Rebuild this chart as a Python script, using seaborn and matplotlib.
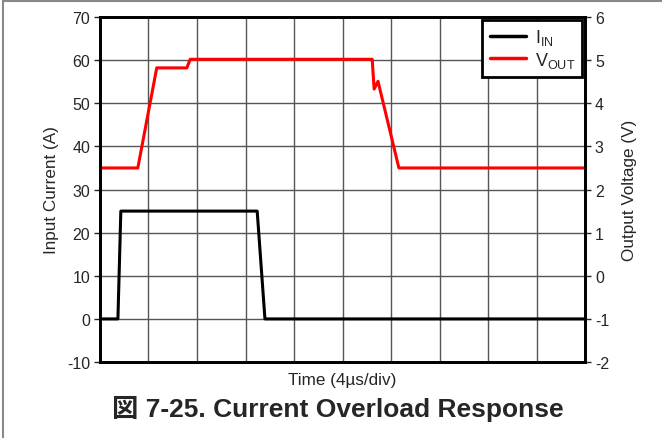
import numpy as np
import pandas as pd
import matplotlib
matplotlib.use('Agg')
import matplotlib.pyplot as plt
import seaborn as sns
from matplotlib.lines import Line2D

# time in divisions (4 us/div)
t_in = [0, 0.37, 0.43, 3.24, 3.40, 10]
i_in = [0, 0, 25, 25, 0, 0]

t_out = [0, 0.78, 1.17, 1.79, 1.86, 5.61, 5.65, 5.73, 6.16, 10]
v_out = [2.5, 2.5, 4.82, 4.82, 5.02, 5.02, 4.33, 4.51, 2.5, 2.5]

left_ticks = [-10, 0, 10, 20, 30, 40, 50, 60, 70]
right_ticks = [-2, -1, 0, 1, 2, 3, 4, 5, 6]

sns.set_style('white')
plt.rcParams['font.family'] = ['Liberation Sans', 'Noto Sans CJK JP', 'DejaVu Sans']
plt.rcParams['mathtext.default'] = 'regular'
plt.rcParams['axes.unicode_minus'] = False

fig = plt.figure(figsize=(6.62, 4.39), dpi=100)
ax = fig.add_axes([0.151, 0.173, 0.733, 0.786])
ax2 = ax.twinx()

df_in = pd.DataFrame({'t': t_in, 'v': i_in})
df_out = pd.DataFrame({'t': t_out, 'v': v_out})

sns.lineplot(data=df_in, x='t', y='v', ax=ax, color='black', lw=2.2, sort=False, legend=False)
sns.lineplot(data=df_out, x='t', y='v', ax=ax2, color='#ff0000', lw=2.2, sort=False, legend=False)

ax.set_xlim(0, 10)
ax.set_ylim(-10, 70)
ax2.set_ylim(-2, 6)
ax.set_xticks(np.arange(0, 11, 1))
ax.set_yticks(left_ticks)
ax2.set_yticks(right_ticks)
ax.tick_params(axis='x', length=0, labelbottom=False)
ax.tick_params(axis='y', length=4, width=1, direction='out', labelsize=11.5, pad=3, left=True)
ax2.tick_params(axis='y', length=4, width=1, direction='out', labelsize=11.5, pad=3, right=True)
ax.grid(True, color='#555555', lw=1)
ax.set_xlabel('Time (4µs/div)', fontsize=12.3, labelpad=7)
ax.set_ylabel('Input Current (A)', fontsize=12.3, labelpad=6)
ax2.set_ylabel('Output Voltage (V)', fontsize=12.3, labelpad=9)
ax2.set_xlabel('')
for a in (ax, ax2):
    for s in a.spines.values():
        s.set_color('black')
        s.set_linewidth(2)

handles = [Line2D([], [], color='black', lw=2.5), Line2D([], [], color='#ff0000', lw=2.5)]
leg = ax2.legend(handles, ['$I_{IN}$', '$V_{OUT}$'], loc='upper right', fontsize=13,
                 frameon=True, fancybox=False, edgecolor='black', framealpha=1,
                 handlelength=2.0, borderaxespad=0.15, labelspacing=0.15, handletextpad=0.5,
                 borderpad=0.4)
leg.get_frame().set_linewidth(2)

fig.text(0.51, 0.068, '図 7-25. Current Overload Response', ha='center', va='center',
         fontsize=19, fontweight='bold')

# gray frame on the top and left edges
fig.add_artist(Line2D([0.005, 0.005], [0, 0.996], transform=fig.transFigure, color='#888888', lw=1.5))
fig.add_artist(Line2D([0.005, 1], [0.996, 0.996], transform=fig.transFigure, color='#888888', lw=1.5))

fig.savefig('out.png', dpi=100)
